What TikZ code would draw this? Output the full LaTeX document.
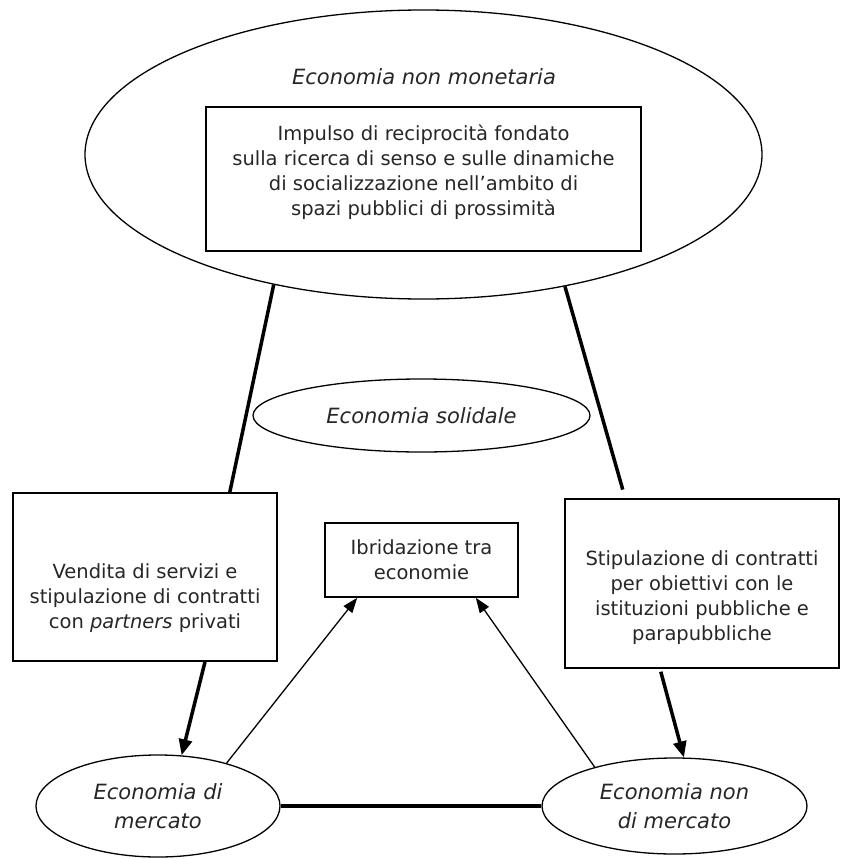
\documentclass[tikz,border=0pt]{standalone}
\usepackage{fontspec}
\setmainfont{DejaVu Sans}
\usetikzlibrary{shapes.geometric, arrows.meta, calc}

\begin{document}
\begin{tikzpicture}[x=1pt, y=-1pt,
    every node/.style={font=\fontsize{19.5}{25}\selectfont, text=black!85},
    ell/.style={draw, ellipse, line width=1.3pt, inner sep=0pt, align=center,
        font=\fontsize{21}{29}\selectfont\itshape},
    box/.style={draw, rectangle, line width=1.6pt, inner sep=0pt, align=center},
    txt/.style={align=center},
    link/.style={line width=3.5pt},
    push/.style={line width=3.5pt, -{Triangle[length=16pt, width=13pt]}},
    mix/.style={line width=1.3pt, -{Triangle[length=15pt, width=11pt]}}]
    \useasboundingbox (0,0) rectangle (841,859);

    \node[ell, minimum width=677pt, minimum height=289pt] (nonmon) at (423.5,154.5) {};
    \node[font=\fontsize{21}{25}\selectfont\itshape] (nonmontxt) at (424,77) {Economia non monetaria};
    \node[box, minimum width=435pt, minimum height=144pt,
        label={[txt, yshift=7pt]center:{Impulso di reciprocità fondato\\sulla ricerca di senso e sulle dinamiche\\di socializzazione nell'ambito di\\spazi pubblici di prossimità}}]
        (imp) at (423.5,179) {};

    \node[ell, minimum width=337pt, minimum height=73pt] (sol) at (421.5,415.5) {Economia solidale};

    \node[box, minimum width=264pt, minimum height=168pt,
        label={[txt, yshift=-21pt]center:{Vendita di servizi e\\stipulazione di contratti\\con \textit{partners} privati}}]
        (lbox) at (145,577) {};
    \node[box, minimum width=193pt, minimum height=74pt] (hyb) at (421.5,560) {Ibridazione tra\\economie};
    \node[box, minimum width=274pt, minimum height=169pt,
        label={[txt, yshift=-14.5pt]center:{Stipulazione di contratti\\per obiettivi con le\\istituzioni pubbliche e\\parapubbliche}}]
        (rbox) at (702,583.5) {};

    \node[ell, minimum width=244pt, minimum height=102pt] (lmkt) at (158,806) {Economia di\\mercato};
    \node[ell, minimum width=265pt, minimum height=96pt] (rnon) at (674.5,806) {Economia non\\di mercato};

    % legami con l'economia non monetaria
    \draw[link] (nonmon.221.7) -- ([xshift=-48pt]lbox.north east);
    \draw[link, shorten >=9pt] (nonmon.317.7) -- ([xshift=61pt]rbox.north west);

    \draw[push] ([xshift=60pt]lbox.south) -- (lmkt.65.6);
    \draw[push, shorten <=3pt] ([xshift=-42pt]rbox.south) -- (rnon.79);

    \draw[mix] (lmkt.32) -- ([xshift=33pt]hyb.south west);
    \draw[mix] (rnon.154) -- ([xshift=-43pt]hyb.south east);

    \draw[line width=4.5pt] (lmkt.east) -- (rnon.west);
\end{tikzpicture}
\end{document}
